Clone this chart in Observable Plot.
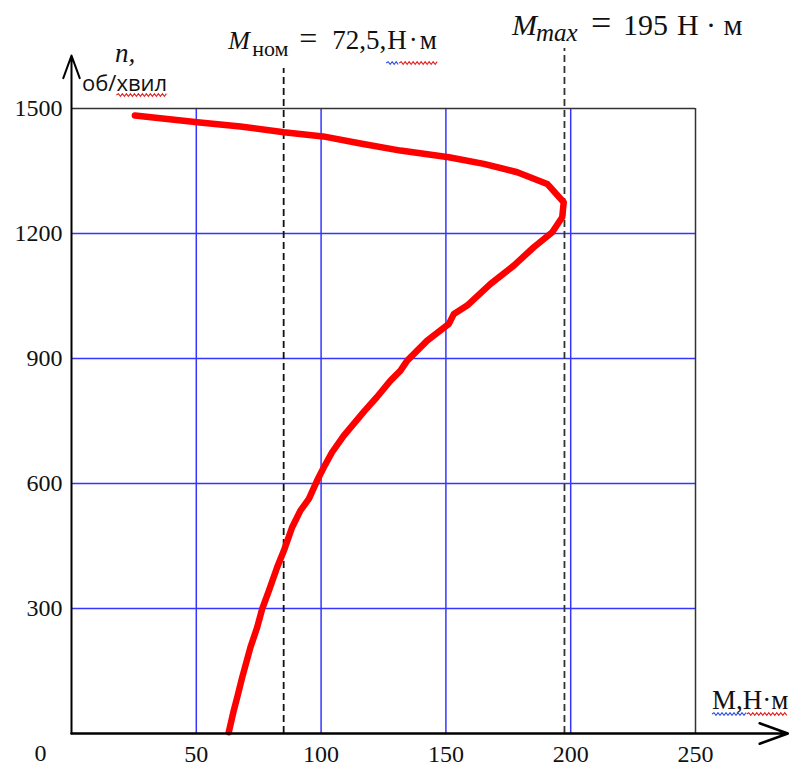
<!DOCTYPE html>
<html>
<head>
<meta charset="utf-8">
<script src="https://cdn.jsdelivr.net/npm/d3@7"></script>
<script src="https://cdn.jsdelivr.net/npm/@observablehq/plot@0.6"></script>
<style>
  html, body { margin: 0; padding: 0; background: #fff; }
  svg { display: block; overflow: visible; }
</style>
</head>
<body>
<div id="chart"></div>
<script>
// ---- data ----
const torqueM = [63.0, 65.0, 66.4, 68.4, 71.7, 74.4, 76.4, 79.1, 82.4, 85.1, 88.4, 91.7, 95.1, 98.4, 101.1, 104.4, 109.1, 117.5, 122.3, 127.8, 131.8, 134.5, 142.5, 151.2, 153.2, 158.5, 167.9, 177.2, 185.2, 192.6, 196.6, 197.2, 190.6, 178.6, 165.2, 151.2, 131.8, 115.8, 100.8, 85.1, 67.7, 50.4, 25.4];
const speedN  = [3, 55, 87, 135, 207, 255, 299, 343, 399, 439, 495, 535, 563, 607, 639, 675, 715, 775, 807, 847, 871, 895, 943, 983, 1007, 1027, 1079, 1123, 1167, 1203, 1239, 1275, 1319, 1347, 1367, 1383, 1399, 1416, 1433, 1443, 1457, 1467, 1483];
const xTicks = [0, 50, 100, 150, 200, 250];
const yTicks = [300, 600, 900, 1200, 1500];
const xGrid = [50, 100, 150, 200];
const yGrid = [300, 600, 900, 1200];
const nomLineM = 85;      // where the dashed M_nom line is drawn
const maxLineM = 197.5;   // where the dashed M_max line is drawn
const nomLabel = {sym: "M", sub: "ном", eq: "=", value: "72,5,", unit: "Н·м"};
const maxLabel = {sym: "M", sub: "max", eq: "=", value: "195", unit: "Н · м"};
const yAxisLabel = ["n,", "об/", "хвил"];
const xAxisLabel = ["М,", "Н·м"];

const curve = torqueM.map((m, i) => ({M: m, n: speedN[i]}));

const serif = "'Liberation Serif', 'Times New Roman', serif";
const gridColor = "#3535ff";

const chart = Plot.plot({
  width: 795,
  height: 766,
  marginLeft: 71,
  marginRight: 100,
  marginTop: 108,
  marginBottom: 33,
  x: {domain: [0, 250], axis: null},
  y: {domain: [0, 1500], axis: null},
  style: {background: "#fff", fontFamily: serif, overflow: "visible"},
  marks: [
    Plot.ruleX(xGrid, {y1: 0, y2: 1500, stroke: gridColor, strokeWidth: 1.5}),
    Plot.ruleY(yGrid, {x1: 0, x2: 250, stroke: gridColor, strokeWidth: 1.5}),
    Plot.ruleY([1500], {x1: 0, x2: 250, stroke: "#333", strokeWidth: 1.5}),
    Plot.ruleX([250], {y1: 0, y2: 1500, stroke: "#333", strokeWidth: 1.5}),
    Plot.ruleX([nomLineM], {y1: 0, y2: 1596, stroke: "#111", strokeWidth: 1.8, strokeDasharray: "7,4"}),
    Plot.ruleX([maxLineM], {y1: 0, y2: 1644, stroke: "#333", strokeWidth: 1.8, strokeDasharray: "7,4"}),
    Plot.line(curve, {x: "M", y: "n", stroke: "#ff0000", strokeWidth: 6.5, strokeLinejoin: "round", curve: "linear"}),
    // axes with arrows
    Plot.arrow([{x1: 0, y1: 0, x2: 287, y2: 0}], {x1: "x1", y1: "y1", x2: "x2", y2: "y2", stroke: "#000", strokeWidth: 2.5, headLength: 18, headAngle: 40}),
    Plot.arrow([{x1: 0, y1: 0, x2: 0, y2: 1627}], {x1: "x1", y1: "y1", x2: "x2", y2: "y2", stroke: "#000", strokeWidth: 2, headLength: 18, headAngle: 40}),
    // tick labels
    Plot.text(xTicks.filter(d => d !== 0), {x: d => d, y: 0, text: d => String(d), dy: 21, fontSize: 24, fill: "#111"}),
    Plot.text(xTicks.filter(d => d === 0), {x: d => d, y: 0, text: d => String(d), dx: -31, dy: 20, fontSize: 24, fill: "#111"}),
    Plot.text(yTicks, {x: 0, y: d => d, text: d => String(d), dx: -9, textAnchor: "end", fontSize: 24, fill: "#111"})
  ]
});

document.getElementById("chart").appendChild(chart);

// rich-text annotations positioned through the plot's scales
const sx = chart.scale("x"), sy = chart.scale("y");
const svg = d3.select(chart);
const frameTop = sy.apply(1500);
const frameBottom = sy.apply(0);
const x0 = sx.apply(0);

function wavy(xa, xb, y, color) {
  const p = d3.path();
  p.moveTo(xa, y);
  let up = true;
  for (let x = xa + 2; x <= xb; x += 2) { p.lineTo(x, y + (up ? -1.3 : 1.3)); up = !up; }
  svg.append("path").attr("d", p.toString()).attr("fill", "none")
    .attr("stroke", color).attr("stroke-width", 1.1);
}
function label(x, y, size, txt, opts = {}) {
  const t = svg.append("text")
    .attr("font-family", opts.family || serif).attr("font-size", size).attr("fill", "#111")
    .attr("text-anchor", "start").attr("x", x).attr("y", y).text(txt);
  if (opts.italic) t.attr("font-style", "italic");
  return t;
}

// M_nom label
{
  const bx = sx.apply(nomLineM), by = frameTop - 59;
  label(bx - 55, by, 26, nomLabel.sym, {italic: true});
  label(bx - 31, by + 7, 22, nomLabel.sub);
  label(bx + 16, by, 32, nomLabel.eq);
  label(bx + 49, by, 27, nomLabel.value);
  const u = label(bx + 104, by, 27, nomLabel.unit).attr("letter-spacing", 2);
  const w = u.node().getComputedTextLength();
  wavy(bx + 103, bx + 116, by + 14, "#3050e0");
  wavy(bx + 116, bx + 104 + w, by + 14, "#e02020");
}
// M_max label
{
  const bx = sx.apply(maxLineM), by = frameTop - 73;
  label(bx - 52, by, 30, maxLabel.sym, {italic: true});
  label(bx - 28, by + 6, 25, maxLabel.sub, {italic: true});
  label(bx + 27, by, 36, maxLabel.eq);
  label(bx + 59, by, 30, maxLabel.value);
  label(bx + 113, by, 30, maxLabel.unit);
}
// y-axis label
label(x0 + 44, frameTop - 46, 27, yAxisLabel[0], {italic: true});
{
  const fam = "'Open Sans', 'Noto Sans', sans-serif";
  const a = label(x0 + 11, frameTop - 17, 22, yAxisLabel[1], {family: fam});
  const wa = a.node().getComputedTextLength();
  const b = label(x0 + 11 + wa, frameTop - 17, 22, yAxisLabel[2], {family: fam});
  const wb = b.node().getComputedTextLength();
  wavy(x0 + 11 + wa, x0 + 11 + wa + wb, frameTop - 13, "#e02020");
}
// x-axis label
{
  const lx = sx.apply(250) + 17, ly = frameBottom - 24;
  const a = label(lx, ly, 27, xAxisLabel[0]);
  const wa = a.node().getComputedTextLength();
  const b = label(lx + wa, ly, 27, xAxisLabel[1]);
  const wb = b.node().getComputedTextLength();
  wavy(lx, lx + wa + 4, ly + 5, "#3050e0");
  wavy(lx + wa + 4, lx + wa + wb, ly + 5, "#e02020");
}
</script>
</body>
</html>
